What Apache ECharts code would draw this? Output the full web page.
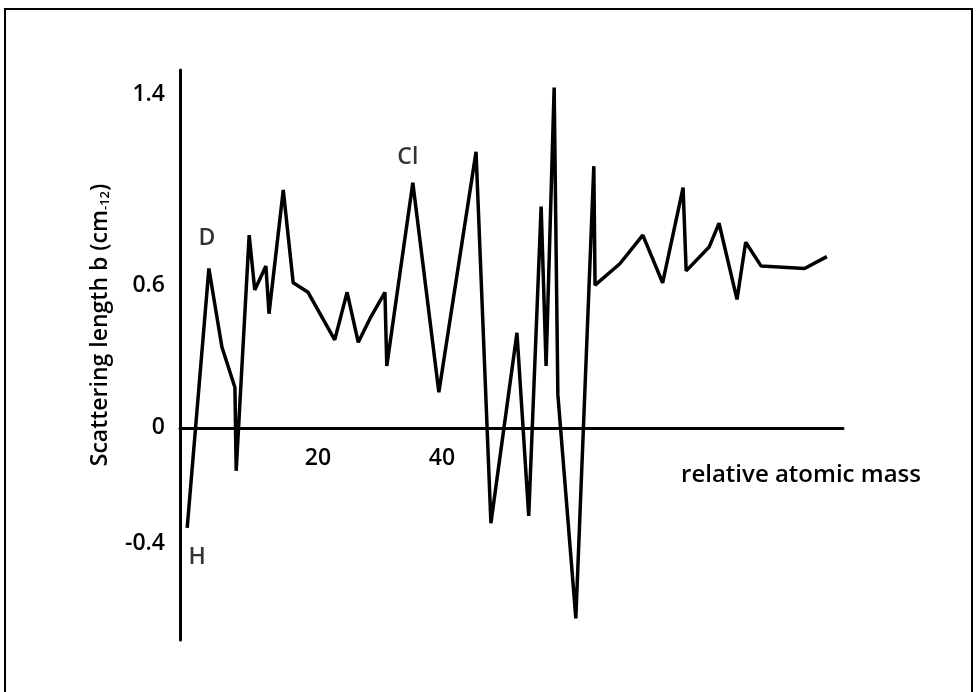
<!DOCTYPE html>
<html>
<head>
<meta charset="utf-8">
<script src="https://cdn.jsdelivr.net/npm/echarts@6/dist/echarts.min.js"></script>
<style>
html,body{margin:0;padding:0;background:#fff;}
#chart{width:978px;height:692px;}
</style>
</head>
<body>
<div id="chart"></div>
<script>
// relative atomic mass (x) and scattering length b in 1e-12 cm (y)
const masses = [-1.1, 2.4, 4.5, 6.6, 6.8, 8.9, 9.8, 11.6, 12.1, 14.4, 16.0, 18.4, 22.7, 24.7, 26.5, 28.4, 30.8, 31.1, 35.3, 39.5, 45.5, 47.9, 52.1, 54.0, 56.0, 56.8, 58.1, 58.7, 61.6, 64.5, 64.7, 68.7, 72.4, 75.6, 78.9, 79.4, 83.1, 84.7, 87.6, 89.0, 91.5, 98.5, 102.1];
const lengths = [-0.42, 0.67, 0.34, 0.17, -0.18, 0.81, 0.58, 0.68, 0.48, 1.0, 0.61, 0.57, 0.37, 0.57, 0.36, 0.46, 0.57, 0.26, 1.03, 0.15, 1.16, -0.40, 0.40, -0.37, 0.93, 0.26, 1.43, 0.14, -0.80, 1.1, 0.60, 0.69, 0.81, 0.61, 1.01, 0.66, 0.76, 0.86, 0.54, 0.78, 0.68, 0.67, 0.72];
const yTickLabels = [1.4, 0.6, 0, -0.4];
const xTickLabels = [20, 40];
const elementNames = ['H', 'D', 'Cl'];
const elementIndex = [0, 1, 18];

const FONT = 'Open Sans';
const FW = 600;
const FS = 23;
const chart = echarts.init(document.getElementById('chart'), null, {renderer: 'canvas'});

const lineData = masses.map((m, i) => [m, lengths[i]]);
const labelOffsets = {H: [10, 30], D: [-2, -30], Cl: [-5, -25]};
const labelData = elementIndex.map((idx, k) => ({
  value: [masses[idx], lengths[idx]],
  name: elementNames[k],
  label: {offset: labelOffsets[elementNames[k]]}
}));

chart.setOption({
  animation: false,
  backgroundColor: '#fff',
  grid: {left: 180, right: 135, top: 70, bottom: 52, containLabel: false},
  xAxis: {
    type: 'value',
    min: -2.26,
    max: 104.7,
    axisLine: {onZero: true, lineStyle: {color: '#000', width: 3}},
    axisTick: {show: false},
    splitLine: {show: false},
    axisLabel: {
      customValues: xTickLabels,
      color: '#000', fontFamily: FONT, fontWeight: FW, fontSize: FS, margin: -193
    }
  },
  yAxis: {
    type: 'value',
    min: -0.891,
    max: 1.504,
    axisLine: {onZero: false, lineStyle: {color: '#000', width: 3}},
    axisTick: {show: false},
    splitLine: {show: false},
    axisLabel: {
      customValues: yTickLabels,
      color: '#000', fontFamily: FONT, fontWeight: FW, fontSize: FS, margin: 15,
      formatter: v => (v < 0 ? '{low|' + String(v) + '}' : String(v)),
      rich: {
        low: {color: '#000', fontFamily: FONT, fontWeight: FW, fontSize: FS, padding: [40, 0, 0, 0]}
      }
    }
  },
  series: [
    {
      type: 'line',
      data: lineData,
      symbol: 'none',
      lineStyle: {color: '#000', width: 3.5},
      z: 3
    },
    {
      type: 'scatter',
      data: labelData,
      symbolSize: 0,
      label: {
        show: true,
        formatter: p => p.name,
        color: '#000', fontFamily: FONT, fontWeight: FW, fontSize: FS,
        position: 'inside'
      },
      z: 4
    }
  ],
  graphic: [
    {
      type: 'rect',
      shape: {x: 5, y: 9, width: 967, height: 720},
      style: {fill: 'none', stroke: '#000', lineWidth: 2},
      silent: true
    },
    {
      type: 'text',
      x: 801, y: 475,
      style: {
        text: 'relative atomic mass',
        fontFamily: FONT, fontWeight: FW, fontSize: 24, fill: '#000',
        textAlign: 'center', textVerticalAlign: 'middle'
      }
    },
    {
      type: 'text',
      x: 100, y: 325,
      rotation: Math.PI / 2,
      style: {
        text: 'Scattering length b (cm{s|-12})',
        fontFamily: FONT, fontWeight: FW, fontSize: 23, fill: '#000',
        textAlign: 'center', textVerticalAlign: 'middle',
        rich: {s: {fontFamily: FONT, fontWeight: FW, fontSize: 13, fill: '#000', padding: [11, 0, 0, 0]}}
      }
    }
  ]
});
</script>
</body>
</html>
